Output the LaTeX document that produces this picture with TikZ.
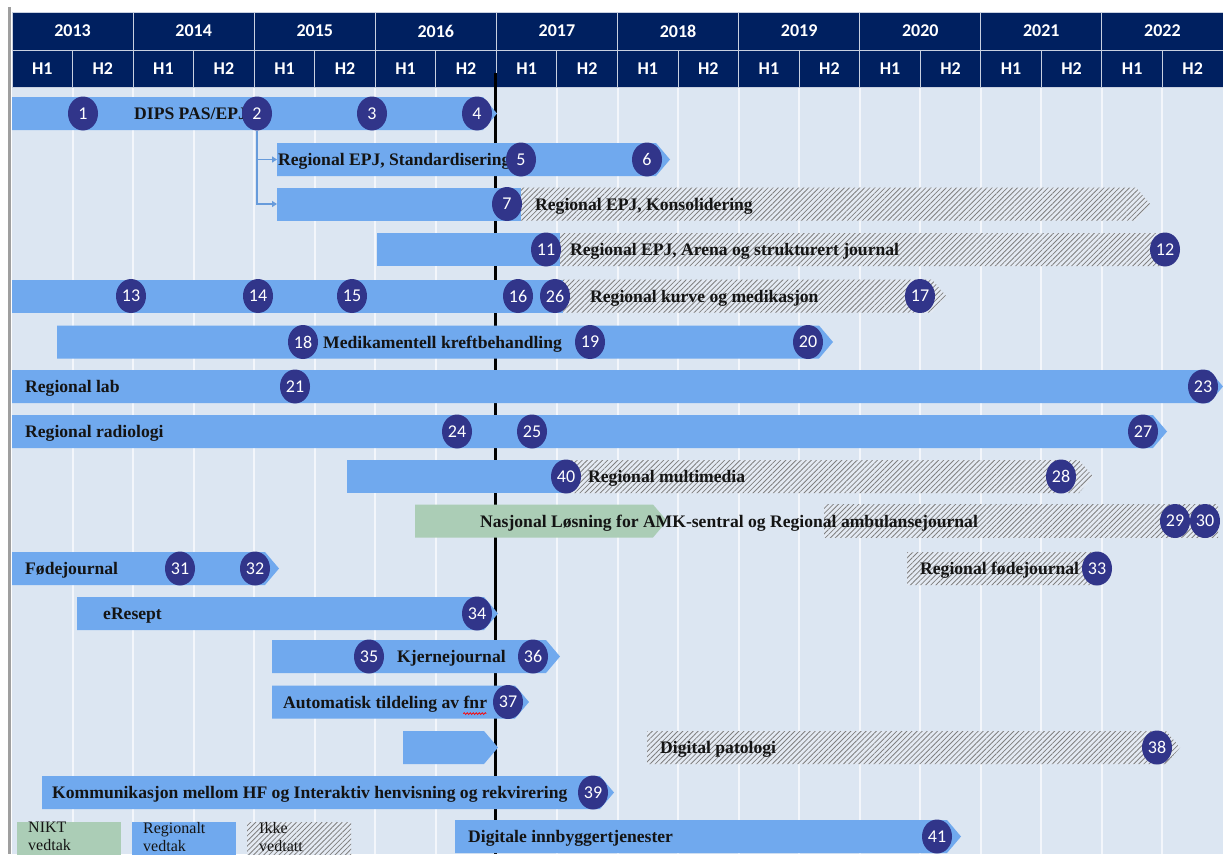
\documentclass[tikz,border=0pt]{standalone}
\usepackage{fontspec}
\setmainfont{Liberation Serif}
\newfontfamily\numfont{Carlito}
\usetikzlibrary{shapes.geometric,patterns.meta,arrows.meta,decorations.pathmorphing}
\definecolor{navy}{HTML}{002060}
\definecolor{gridbg}{HTML}{DCE6F2}
\definecolor{gridln}{HTML}{F3F6FB}
\definecolor{barblue}{HTML}{70A9EE}
\definecolor{nikt}{HTML}{ABCDB6}
\definecolor{circ}{HTML}{31358A}
\definecolor{hatchbg}{HTML}{E4EAF3}
\definecolor{hatchc}{HTML}{808080}
\definecolor{txt}{HTML}{141414}
\definecolor{hdrline}{HTML}{C8D0E0}
\newcommand\tlarrow[4]{\fill[#4] (#1,#3-16.5) -- (#2-14,#3-16.5) -- (#2,#3) -- (#2-14,#3+16.5) -- (#1,#3+16.5) -- cycle;}
\newcommand\tlrect[4]{\fill[#4] (#1,#3-16.5) rectangle (#2,#3+16.5);}
\begin{document}
\begin{tikzpicture}[x=1pt,y=-1pt,
  num/.style={ellipse, fill=circ, text=white, font=\numfont\fontsize{18}{18}\selectfont, inner sep=0pt, minimum width=30pt, minimum height=34pt},
  lbl/.style={anchor=base west, yshift=-6pt, inner sep=0pt, font=\bfseries\fontsize{17.6}{17.6}\selectfont, text=txt},
  leg/.style={anchor=north west, inner sep=0pt, align=left, font=\fontsize{16}{18}\selectfont, text=txt},
  hdr/.style={text=white, font=\numfont\bfseries\fontsize{18}{18}\selectfont},
  bluebar/.style={fill=barblue},
  greenbar/.style={fill=nikt},
  hatchbar/.style={fill=hatchbg, postaction={pattern={Lines[angle=45,distance=3.6pt,line width=0.8pt]}, pattern color=hatchc}},
  conn/.style={draw=barblue!92!black, line width=1.6pt, -{Triangle[length=5pt,width=6pt]}}]
\useasboundingbox (0,0) rectangle (1223,854);
\clip (0,0) rectangle (1223,854);
\fill[white] (0,0) rectangle (1223,854);
% background grid
\fill[gridbg] (12,87) rectangle (1223,854);
\foreach \k in {1,...,19} {\draw[gridln, line width=2pt] (12+\k*60.55,87) -- (12+\k*60.55,854);}
\draw[gray!75, line width=3pt] (9.5,7) -- (9.5,854);
% header
\foreach \yr [count=\k from 0] in {2013,2014,2015,2016,2017,2018,2019,2020,2021,2022} {
  \filldraw[fill=navy, draw=hdrline, line width=1pt] (12+\k*121.1,12) rectangle (12+\k*121.1+121.1,50);
  \node[hdr] (y\yr) at (12+\k*121.1+60.55,31) {\yr};
  \filldraw[fill=navy, draw=hdrline, line width=1pt] (12+\k*121.1,50) rectangle (12+\k*121.1+60.55,87);
  \filldraw[fill=navy, draw=hdrline, line width=1pt] (12+\k*121.1+60.55,50) rectangle (12+\k*121.1+121.1,87);
  \node[hdr] (h\yr a) at (12+\k*121.1+30.3,69) {H1};
  \node[hdr] (h\yr b) at (12+\k*121.1+90.8,69) {H2};
}
% today line
\draw[black, line width=3pt] (495,73) -- (495,854);
% row 1
\tlarrow{12}{497}{113.5}{bluebar}
\node[lbl] (l1) at (134,113.5) {DIPS PAS/EPJ};
\node[num] (c1) at (83,113.5) {1};
\node[num] (c2) at (257,113.5) {2};
\node[num] (c3) at (372,113.5) {3};
\node[num] (c4) at (477,113.5) {4};
% row 2
\tlarrow{277}{670}{159.5}{bluebar}
\coordinate (r2w) at (277,159.5);
\node[lbl] (l2) at (278,159.5) {Regional EPJ, Standardisering};
\node[num] (c5) at (521,159.5) {5};
\node[num] (c6) at (647,159.5) {6};
% row 3
\tlrect{277}{521}{204}{bluebar}
\tlarrow{521}{1150}{204}{hatchbar}
\coordinate (r3w) at (277,204);
\node[lbl] (l3) at (535,204) {Regional EPJ, Konsolidering};
\node[num] (c7) at (507,204) {7};
% connectors
\draw[conn] (c2.south) |- (r2w);
\draw[conn] (c2.south) |- (r3w);
% row 4
\tlrect{377}{560}{249.5}{bluebar}
\tlarrow{560}{1175}{249.5}{hatchbar}
\node[lbl] (l4) at (570,249.5) {Regional EPJ, Arena og strukturert journal};
\node[num] (c11) at (546,249.5) {11};
\node[num] (c12) at (1165,249.5) {12};
% row 5
\tlrect{12}{563}{296}{bluebar}
\tlarrow{563}{946}{296}{hatchbar}
\node[lbl] (l5) at (590,296) {Regional kurve og medikasjon};
\node[num] (c13) at (131,296) {13};
\node[num] (c14) at (258,296) {14};
\node[num] (c15) at (352,296) {15};
\node[num] (c16) at (518,296) {16};
\node[num] (c26) at (555,296) {26};
\node[num] (c17) at (920,296) {17};
% row 6
\tlarrow{57}{833}{342}{bluebar}
\node[lbl] (l6) at (323,342) {Medikamentell kreftbehandling};
\node[num] (c18) at (303,342) {18};
\node[num] (c19) at (590,342) {19};
\node[num] (c20) at (808,342) {20};
% row 7
\tlarrow{12}{1223}{386.5}{bluebar}
\node[lbl] (l7) at (25,386.5) {Regional lab};
\node[num] (c21) at (295,386.5) {21};
\node[num] (c23) at (1203,386.5) {23};
% row 8
\tlarrow{12}{1167}{431.5}{bluebar}
\node[lbl] (l8) at (25,431.5) {Regional radiologi};
\node[num] (c24) at (457,431.5) {24};
\node[num] (c25) at (532,431.5) {25};
\node[num] (c27) at (1143,431.5) {27};
% row 9
\tlrect{347}{565}{476.5}{bluebar}
\tlarrow{565}{1093}{476.5}{hatchbar}
\node[lbl] (l9) at (588,476.5) {Regional multimedia};
\node[num] (c40) at (566,476.5) {40};
\node[num] (c28) at (1061,476.5) {28};
% row 10
\tlrect{824}{1218}{521}{hatchbar}
\tlarrow{415}{667}{521}{greenbar}
\node[lbl] (l10) at (480,521) {Nasjonal Løsning for AMK-sentral og Regional ambulansejournal};
\node[num] (c29) at (1175,521) {29};
\node[num] (c30) at (1205,521) {30};
% row 11
\tlarrow{12}{279}{568.5}{bluebar}
\node[lbl] (l11) at (25,568.5) {Fødejournal};
\node[num] (c31) at (180,568.5) {31};
\node[num] (c32) at (255,568.5) {32};
\tlarrow{907}{1110}{568.5}{hatchbar}
\node[lbl] (l11b) at (920,568.5) {Regional fødejournal};
\node[num] (c33) at (1097,568.5) {33};
% row 12
\tlarrow{77}{498}{613.5}{bluebar}
\node[lbl] (l12) at (103,613.5) {eResept};
\node[num] (c34) at (477,613.5) {34};
% row 13
\tlarrow{272}{560}{656.5}{bluebar}
\node[lbl] (l13) at (397,656.5) {Kjernejournal};
\node[num] (c35) at (369,656.5) {35};
\node[num] (c36) at (533,656.5) {36};
% row 14
\tlarrow{272}{529}{702}{bluebar}
\node[lbl] (l14) at (283,702) {Automatisk tildeling av fnr};
\draw[red, line width=0.7pt, decorate, decoration={snake, amplitude=0.9pt, segment length=3pt}] (l14.south east) ++(-24,1.5) -- ++(23,0);
\node[num] (c37) at (508,702) {37};
% row 15
\tlarrow{403}{498}{747.5}{bluebar}
\tlarrow{647}{1180}{747.5}{hatchbar}
\node[lbl] (l15) at (660,747.5) {Digital patologi};
\node[num] (c38) at (1157,747.5) {38};
% row 16
\tlarrow{42}{614}{792.5}{bluebar}
\node[lbl] (l16) at (52,792.5) {Kommunikasjon mellom HF og Interaktiv henvisning og rekvirering};
\node[num] (c39) at (593,792.5) {39};
% row 17
\tlarrow{455}{961}{836.5}{bluebar}
\node[lbl] (l17) at (468,836.5) {Digitale innbyggertjenester};
\node[num] (c41) at (937,836.5) {41};
% legend
\fill[nikt] (17,822) rectangle (121,880);
\fill[barblue] (132,822) rectangle (236,880);
\fill[hatchbar] (247,822) rectangle (351,880);
\node[leg] (g1) at (28,822) {NIKT\\vedtak};
\node[leg] (g2) at (143,822) {Regionalt\\vedtak};
\node[leg] (g3) at (259,822) {Ikke\\vedtatt};
\end{tikzpicture}
\end{document}
